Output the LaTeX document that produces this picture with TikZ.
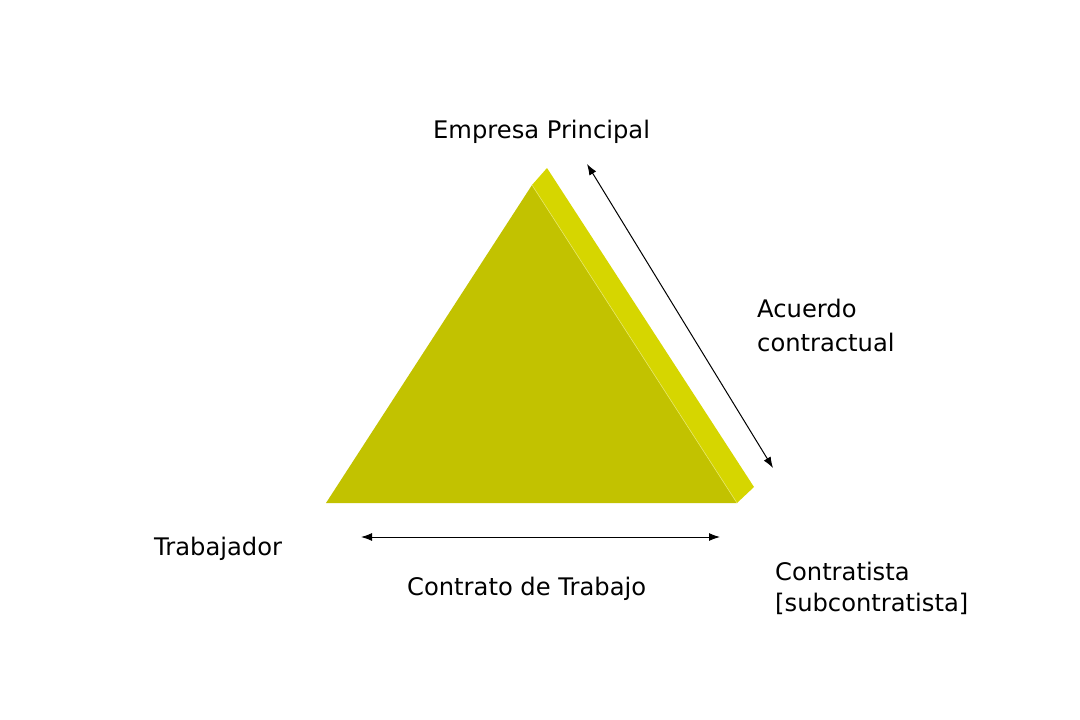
\documentclass[tikz,border=0pt]{standalone}
\usepackage{fontspec}
\setmainfont{DejaVu Sans}
\usetikzlibrary{arrows.meta}
\definecolor{frontcol}{HTML}{C2C200}
\definecolor{sidecol}{HTML}{D6D600}
\tikzset{lbl/.style={inner sep=0pt,anchor=west,align=left,font=\fontsize{24.2}{34}\selectfont},
  rel/.style={{Latex[length=11pt,width=8pt]}-{Latex[length=11pt,width=8pt]},line width=1pt}}

\begin{document}
\begin{tikzpicture}[x=1pt,y=-1pt]
\useasboundingbox (0,0) rectangle (1080,720);
\coordinate (top) at (532,185); \coordinate (topb) at (547,168);
\coordinate (bl) at (326,503); \coordinate (br) at (737,503); \coordinate (brb) at (754,487);
\fill[sidecol] (top) -- (topb) -- (brb) -- (br) -- cycle;
\fill[frontcol] (top) -- (bl) -- (br) -- cycle;
\draw[sidecol!60!white,line width=0.6pt] (top) -- (br);
\coordinate (r1) at (587,164); \coordinate (r2) at (773,468);
\coordinate (b1) at (361,537); \coordinate (b2) at (720,537);
\draw[rel] (r1) -- (r2); \draw[rel] (b1) -- (b2);
\node[lbl] (ep) at (433,132) {Empresa Principal};
\node[lbl] (acu) at (757,325) {Acuerdo\\contractual};
\node[lbl] (trab) at (154,549) {Trabajador};
\node[lbl] (ctr) at (407,589) {Contrato de Trabajo};
\node[lbl,font=\fontsize{24.2}{31}\selectfont] (cont) at (775,588) {Contratista\\{[subcontratista]}};
\end{tikzpicture}
\end{document}
